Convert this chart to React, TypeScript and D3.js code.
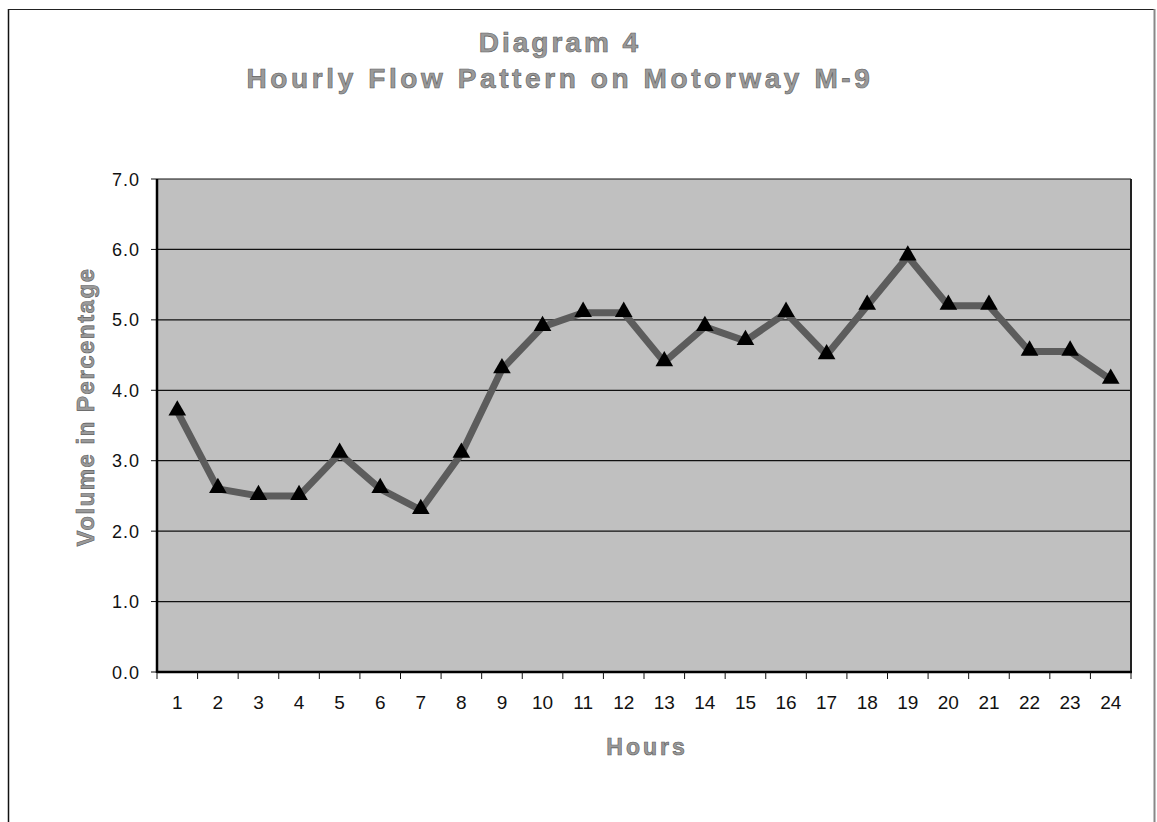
import React from 'react'
import * as d3 from 'd3'

// hourly share of daily traffic
const hours = ['1', '2', '3', '4', '5', '6', '7', '8', '9', '10', '11', '12',
  '13', '14', '15', '16', '17', '18', '19', '20', '21', '22', '23', '24']
const volume = [3.7, 2.6, 2.5, 2.5, 3.1, 2.6, 2.3, 3.1, 4.3, 4.9, 5.1, 5.1,
  4.4, 4.9, 4.7, 5.1, 4.5, 5.2, 5.9, 5.2, 5.2, 4.55, 4.55, 4.15]
const yTicks = [0, 1, 2, 3, 4, 5, 6, 7]

const W = 1157
const H = 822
const plot = { left: 157, right: 1131, top: 179, bottom: 672 }
const font = 'Arial, "Liberation Sans", Helvetica, sans-serif'

const App = () => {
  const x = d3.scaleBand().domain(hours).range([plot.left, plot.right])
  const y = d3.scaleLinear().domain([0, 7]).range([plot.bottom, plot.top])

  const pts = hours.map((h, i) => ({ h, v: volume[i] }))
  const line = d3.line<{ h: string; v: number }>()
    .x(d => x(d.h)! + x.bandwidth() / 2)
    .y(d => y(d.v))
  const tri = d3.symbol().type(d3.symbolTriangle).size(135)

  const titleStyle = { fontFamily: font, fontWeight: 'bold' as const, fill: '#9a9a9a', stroke: '#5a5a5a', strokeWidth: 0.6 }

  return (
    <svg width={W} height={H} style={{ position: 'absolute', left: 0, top: 0, background: '#fff' }}>
      {/* outer frame */}
      <line x1={8.5} y1={9} x2={8.5} y2={H} stroke="#111" strokeWidth={1.5} />
      <line x1={8} y1={9.5} x2={1155} y2={9.5} stroke="#222" strokeWidth={1.2} />
      <line x1={1154.5} y1={9} x2={1154.5} y2={H} stroke="#888" strokeWidth={2} />

      <text x={560} y={52} textAnchor="middle" fontSize={28} letterSpacing={3} style={titleStyle}>Diagram 4</text>
      <text x={560} y={88} textAnchor="middle" fontSize={28} letterSpacing={3.6} style={titleStyle}>Hourly Flow Pattern on Motorway M-9</text>

      <rect x={plot.left} y={plot.top} width={plot.right - plot.left} height={plot.bottom - plot.top} fill="#c0c0c0" />

      {yTicks.map(t => (
        <g key={t}>
          {t > 0 && <line x1={plot.left} x2={plot.right} y1={y(t)} y2={y(t)} stroke="#111" strokeWidth={1.2} />}
          <line x1={plot.left - 6} x2={plot.left} y1={y(t)} y2={y(t)} stroke="#111" strokeWidth={1} />
          <text x={140} y={y(t) + 6.5} textAnchor="end" fontFamily={font} fontSize={18} letterSpacing={1} fill="#111">{t.toFixed(1)}</text>
        </g>
      ))}

      {/* plot border */}
      <line x1={plot.right} x2={plot.right} y1={plot.top} y2={plot.bottom} stroke="#222" strokeWidth={2} />
      <line x1={plot.left} x2={plot.left} y1={plot.top} y2={plot.bottom + 1} stroke="#000" strokeWidth={2.5} />
      <line x1={plot.left} x2={plot.right + 1} y1={plot.bottom} y2={plot.bottom} stroke="#000" strokeWidth={2.5} />

      {hours.map((h, i) => (
        <g key={h}>
          <line x1={x(h)!} x2={x(h)!} y1={plot.bottom} y2={plot.bottom + 7} stroke="#111" strokeWidth={1} />
          {i === hours.length - 1 && <line x1={plot.right} x2={plot.right} y1={plot.bottom} y2={plot.bottom + 7} stroke="#111" strokeWidth={1} />}
          <text x={x(h)! + x.bandwidth() / 2} y={709} textAnchor="middle" fontFamily={font} fontSize={19} fill="#111">{h}</text>
        </g>
      ))}

      <path d={line(pts)!} fill="none" stroke="#5c5c5c" strokeWidth={7} strokeLinejoin="round" />
      {pts.map(p => (
        <path key={p.h} d={tri()!} transform={`translate(${x(p.h)! + x.bandwidth() / 2},${y(p.v) - 1})`} fill="#000" />
      ))}

      <text x={647} y={755} textAnchor="middle" fontSize={23} letterSpacing={3} style={titleStyle}>Hours</text>
      <text transform={`translate(94,407) rotate(-90)`} textAnchor="middle" fontSize={24} letterSpacing={1.5} style={titleStyle}>Volume in Percentage</text>
    </svg>
  )
}

export default App
